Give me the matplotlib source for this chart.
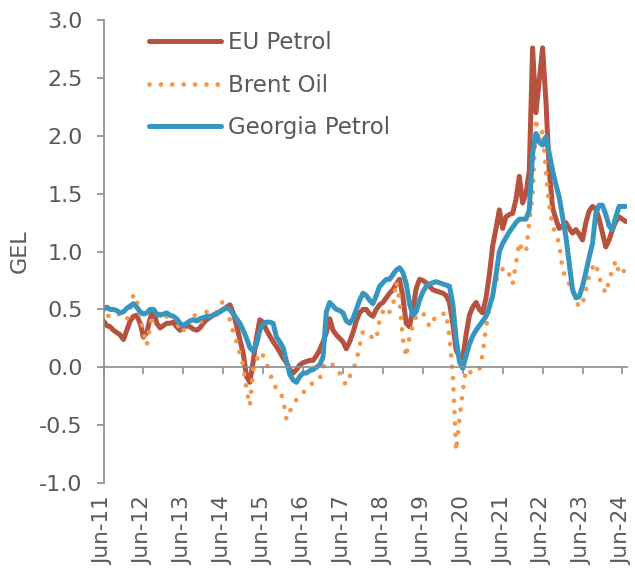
import numpy as np
import matplotlib
matplotlib.use("Agg")
import matplotlib.pyplot as plt


# monthly values, Jun-11 .. Jul-24 (GEL)
eu_petrol = [
    0.40, 0.36, 0.35, 0.32, 0.30, 0.28, 0.24, 0.32, 0.40, 0.44, 0.45, 0.38,
    0.26, 0.30, 0.42, 0.50, 0.38, 0.34, 0.36, 0.38, 0.38, 0.39, 0.35, 0.32,
    0.34, 0.36, 0.35, 0.33, 0.32, 0.34, 0.38, 0.41, 0.43, 0.45, 0.47, 0.48,
    0.50, 0.52, 0.54, 0.47, 0.36, 0.24, 0.12, -0.08, -0.13, 0.05, 0.26, 0.41,
    0.39, 0.32, 0.27, 0.22, 0.18, 0.13, 0.08, 0.04, -0.02, -0.05, -0.02, 0.02,
    0.04, 0.05, 0.06, 0.06, 0.10, 0.15, 0.22, 0.30, 0.42, 0.32, 0.28, 0.25,
    0.22, 0.16, 0.22, 0.30, 0.40, 0.47, 0.50, 0.50, 0.46, 0.44, 0.50, 0.54,
    0.56, 0.60, 0.64, 0.67, 0.72, 0.76, 0.61, 0.38, 0.35, 0.50, 0.68, 0.76,
    0.75, 0.73, 0.70, 0.67, 0.66, 0.65, 0.64, 0.62, 0.56, 0.38, 0.15, 0.09,
    0.08, 0.28, 0.45, 0.52, 0.56, 0.50, 0.47, 0.60, 0.80, 1.05, 1.20, 1.36,
    1.20, 1.30, 1.32, 1.33, 1.45, 1.65, 1.42, 1.50, 1.70, 2.76, 2.20, 2.48,
    2.76, 2.30, 1.70, 1.38, 1.28, 1.20, 1.22, 1.25, 1.20, 1.16, 1.19, 1.15,
    1.10, 1.25, 1.35, 1.39, 1.37, 1.28, 1.16, 1.04, 1.10, 1.19, 1.26, 1.30,
    1.28, 1.26,
]

brent_oil = [
    0.52, 0.44, 0.45, 0.46, 0.47, 0.45, 0.43, 0.41, 0.50, 0.63, 0.58, 0.45,
    0.30, 0.19, 0.35, 0.48, 0.52, 0.46, 0.41, 0.44, 0.48, 0.44, 0.41, 0.30,
    0.32, 0.35, 0.40, 0.47, 0.42, 0.38, 0.44, 0.48, 0.46, 0.47, 0.47, 0.52,
    0.58, 0.47, 0.41, 0.30, 0.22, 0.12, 0.02, -0.20, -0.33, -0.02, 0.06, 0.13,
    0.10, 0.03, -0.04, -0.15, -0.18, -0.20, -0.28, -0.45, -0.38, -0.33, -0.28, -0.25,
    -0.22, -0.19, -0.16, -0.13, -0.12, -0.10, 0.00, 0.04, 0.04, 0.02, 0.00, -0.05,
    -0.12, -0.15, -0.08, -0.03, 0.06, 0.18, 0.31, 0.30, 0.28, 0.25, 0.24, 0.41,
    0.48, 0.44, 0.48, 0.52, 0.74, 0.58, 0.24, 0.09, 0.26, 0.36, 0.44, 0.47,
    0.47, 0.42, 0.35, 0.40, 0.44, 0.44, 0.46, 0.47, 0.26, -0.05, -0.72, -0.45,
    -0.20, -0.02, -0.04, -0.05, -0.03, -0.02, 0.12, 0.35, 0.50, 0.65, 0.75, 0.81,
    0.85, 0.86, 0.80, 0.72, 0.90, 1.08, 1.00, 1.00, 1.25, 1.50, 2.15, 1.92,
    2.05, 1.70, 1.40, 1.22, 1.15, 1.07, 0.85, 0.76, 0.72, 0.67, 0.58, 0.52,
    0.55, 0.66, 0.80, 0.86, 0.90, 0.78, 0.70, 0.64, 0.75, 0.85, 0.92, 0.82,
    0.80, 0.88,
]

georgia_petrol = [
    0.50, 0.52, 0.50, 0.50, 0.49, 0.47, 0.48, 0.51, 0.53, 0.55, 0.52, 0.48,
    0.46, 0.47, 0.50, 0.50, 0.46, 0.45, 0.46, 0.47, 0.45, 0.44, 0.42, 0.38,
    0.36, 0.38, 0.40, 0.41, 0.40, 0.42, 0.43, 0.44, 0.44, 0.45, 0.46, 0.48,
    0.50, 0.51, 0.50, 0.46, 0.42, 0.38, 0.32, 0.25, 0.17, 0.14, 0.20, 0.32,
    0.38, 0.39, 0.39, 0.38, 0.26, 0.22, 0.17, 0.05, -0.06, -0.11, -0.13, -0.08,
    -0.05, -0.05, -0.03, -0.02, 0.00, 0.02, 0.09, 0.48, 0.56, 0.53, 0.50, 0.49,
    0.47, 0.40, 0.38, 0.42, 0.50, 0.58, 0.64, 0.62, 0.58, 0.55, 0.62, 0.70,
    0.73, 0.76, 0.76, 0.80, 0.84, 0.86, 0.82, 0.72, 0.55, 0.45, 0.48, 0.58,
    0.65, 0.70, 0.72, 0.73, 0.74, 0.73, 0.72, 0.71, 0.70, 0.55, 0.25, 0.05,
    -0.01, 0.10, 0.20, 0.27, 0.32, 0.36, 0.40, 0.44, 0.52, 0.62, 0.80, 1.00,
    1.07, 1.12, 1.17, 1.21, 1.25, 1.28, 1.28, 1.28, 1.36, 1.85, 2.02, 1.95,
    1.92, 1.99, 1.85, 1.70, 1.58, 1.47, 1.30, 1.13, 0.90, 0.67, 0.60, 0.61,
    0.70, 0.82, 0.95, 1.07, 1.33, 1.40, 1.40, 1.32, 1.22, 1.19, 1.30, 1.39,
    1.39, 1.39,
]

tick_labels = ["Jun-%02d" % (y % 100) for y in range(2011, 2025)]

RED = "#B55240"
ORANGE = "#F5964A"
BLUE = "#3796BE"
GREY = "#595959"


def main():
    plt.rcParams["font.family"] = "DejaVu Sans"
    plt.rcParams["axes.unicode_minus"] = False

    fig = plt.figure(figsize=(6.35, 5.75), dpi=100)
    ax = fig.add_axes([0.163, 0.16, 0.824, 0.805])

    months = np.arange(len(eu_petrol))
    ax.plot(months, eu_petrol, color=RED, lw=3.6, solid_capstyle="round",
            label="EU Petrol")
    ax.plot(months, brent_oil, color=ORANGE, lw=3.4, dashes=(0.01, 2.4),
            dash_capstyle="round", label="Brent Oil")
    ax.plot(months, georgia_petrol, color=BLUE, lw=3.6,
            solid_capstyle="round", label="Georgia Petrol")

    ax.set_xlim(0, 157.3)
    ax.set_ylim(-1, 3)
    ax.set_yticks(np.arange(-1, 3.01, 0.5))
    ax.set_yticklabels(["%.1f" % v for v in np.arange(-1, 3.01, 0.5)])
    ax.set_xticks(np.arange(0, 12 * len(tick_labels), 12))
    ax.set_xticklabels(tick_labels)

    # x axis sits on zero, labels stay at the bottom
    for side in ("top", "right"):
        ax.spines[side].set_visible(False)
    ax.spines["bottom"].set_position(("data", 0))
    for side in ("bottom", "left"):
        ax.spines[side].set_color("#8C8C8C")
        ax.spines[side].set_linewidth(1.2)
    ax.tick_params(axis="x", direction="out", length=5, width=1.2,
                   color="#8C8C8C", labelcolor=GREY, labelsize=15.5,
                   labelrotation=90, pad=88)
    ax.tick_params(axis="y", direction="out", length=5, width=1.2,
                   color="#8C8C8C", labelcolor=GREY, labelsize=16, pad=10)

    ax.set_ylabel("GEL", color=GREY, fontsize=16, labelpad=7)

    leg = ax.legend(loc="upper left", bbox_to_anchor=(0.047, 1.02),
                    frameon=False, fontsize=16.5, handlelength=3.15,
                    handletextpad=0.3, labelspacing=0.85)
    for t in leg.get_texts():
        t.set_color(GREY)

    fig.savefig("out.png", dpi=100)


if __name__ == "__main__":
    main()
